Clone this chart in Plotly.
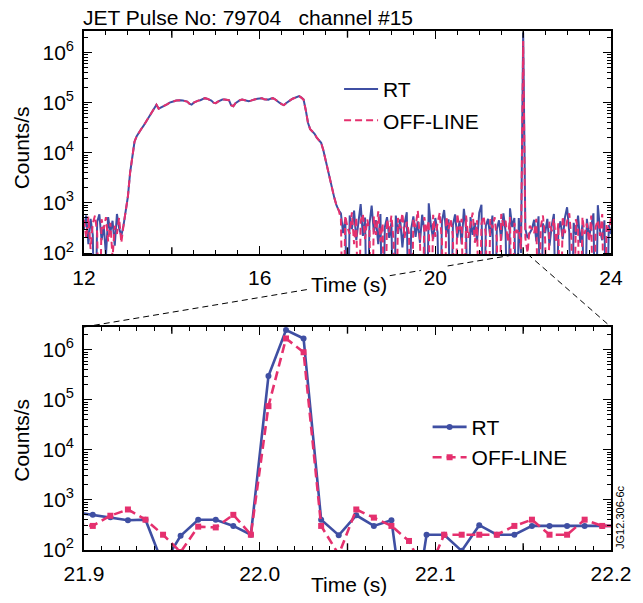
import numpy as np
import plotly.graph_objects as go

# ---------------- data: top panel (full pulse, 0.05 s samples) ----------------
SAMPLE_STEP = 0.05
early_start, pulse_start, late_start, spike_time, post_start = 12.0, 12.90, 17.85, 22.0, 22.05

early_rt = [300, 560, 150, 480, 230, 1, 420, 590, 180, 350, 90, 520, 260, 440, 140, 600, 310, 220]
early_off = [460, 200, 530, 120, 390, 560, 250, 1, 470, 300, 520, 170, 400, 80, 350, 240, 500, 160]

# rise, flat-top and fall of the neutron signal (both traces coincide)
pulse_counts = [
    355, 700, 1350, 4000, 8900, 16600, 21400, 25700, 29500, 33900, 39800, 46800,
    55000, 64600, 79400, 91200, 75900, 79400, 85100, 89100, 93300, 100000,
    105000, 107000, 110000, 112000, 112000, 110000, 107000, 105000, 95500, 91200,
    100000, 107000, 110000, 112000, 117000, 123000, 120000, 115000, 110000, 100000,
    97700, 105000, 112000, 115000, 115000, 115000, 112000, 89100, 85100, 97700,
    107000, 112000, 115000, 112000, 110000, 107000, 110000, 115000, 117000, 120000,
    120000, 123000, 117000, 115000, 115000, 120000, 123000, 117000, 110000, 100000,
    93300, 89100, 97700, 107000, 112000, 120000, 126000, 132000, 135000, 126000, 115000,
    70800, 39800, 29500, 26300, 24000, 20000, 17800, 15800, 11200, 7100, 5000,
    3160, 2090, 1260, 890, 710,
]

late_pre_rt = [
    620, 250, 480, 1, 560, 300, 700, 180, 420, 950,
    220, 510, 1, 380, 880, 260, 450, 150, 600, 1,
    330, 520, 200, 410, 1, 560, 240, 470, 130, 390,
    650, 1, 300, 540, 210, 430, 160, 580, 280, 1,
    980, 350, 190, 500, 260, 1, 430, 720, 240, 470,
    1, 360, 590, 200, 440, 150, 760, 310, 1, 520,
    230, 400, 170, 640, 920, 1, 350, 480, 210, 560,
    1, 300, 450, 180, 620, 270, 1, 780, 330, 500,
    1, 500, 100,
]
late_pre_off = [
    480, 1, 560, 320, 240, 650, 150, 520, 1, 430,
    600, 190, 470, 280, 1, 540, 230, 680, 170, 390,
    1, 470, 260, 560, 180, 1, 500, 310, 620, 200,
    420, 250, 1, 480, 330, 700, 190, 1, 520, 260,
    440, 1, 580, 210, 390, 640, 170, 1, 530, 300,
    470, 220, 1, 610, 290, 480, 1, 560, 200, 380,
    640, 160, 450, 1, 380, 550, 230, 1, 470, 310,
    520, 190, 1, 600, 350, 440, 170, 520, 1, 400,
    250, 300, 120,
]
spike_rt = 2500000
spike_off = 1700000
late_post_rt = [
    300, 200, 250, 300, 460, 170, 540, 1, 390, 250,
    480, 140, 350, 600, 1, 290, 430, 190, 510, 820,
    260, 1, 400, 230, 560, 160, 370, 1, 480, 210,
    340, 620, 1, 900, 280, 180, 450, 1, 360, 240,
]
late_post_off = [
    200, 100, 350, 300, 250, 480, 1, 330, 560, 190,
    1, 420, 270, 480, 160, 390, 1, 540, 250, 430,
    620, 180, 1, 470, 300, 1, 520, 240, 390, 170,
    560, 1, 330, 450, 220, 600, 1, 380, 270, 500,
]

# ---------------- data: bottom panel (zoom 21.9-22.2 s, 0.01 s samples) ----------------
zoom_start, zoom_step = 21.895, 0.01
zoom_rt = [560, 500, 450, 390, 400, 50, 190, 400, 400, 300, 200,
           300000, 2500000, 1700000, 400, 195, 490, 300, 390, 1, 200,
           200, 95, 310, 200, 200, 300, 300, 300, 300, 300, 300]
zoom_off = [330, 300, 480, 640, 400, 200, 90, 290, 280, 500, 200,
            75000, 1700000, 900000, 300, 80, 640, 440, 300, 150, 30,
            200, 200, 200, 200, 300, 400, 200, 200, 400, 300, 300]

# tick labels
top_xticks = [12, 16, 20, 24]
top_xtext = ["12", "16", "20", "24"]
top_mid_ticks = [14, 18, 22]
bot_xticks = [21.9, 22.0, 22.1, 22.2]
bot_xtext = ["21.9", "22.0", "22.1", "22.2"]
bot_mid_ticks = [21.95, 22.05, 22.15]
y_ticks = [1e2, 1e3, 1e4, 1e5, 1e6]
y_text = ["10<sup>2</sup>", "10<sup>3</sup>", "10<sup>4</sup>", "10<sup>5</sup>", "10<sup>6</sup>"]


def seg_times(start, n, step):
    return list(np.round(start + step * np.arange(n), 3))


t_top = (seg_times(early_start, len(early_rt), SAMPLE_STEP)
         + seg_times(pulse_start, len(pulse_counts), SAMPLE_STEP)
         + seg_times(late_start, len(late_pre_rt), SAMPLE_STEP)
         + [spike_time]
         + seg_times(post_start, len(late_post_rt), SAMPLE_STEP))
rt_top = early_rt + pulse_counts + late_pre_rt + [spike_rt] + late_post_rt
off_top = early_off + pulse_counts + late_pre_off + [spike_off] + late_post_off
t_zoom = seg_times(zoom_start, len(zoom_rt), zoom_step)

BLUE = "#3F4FA3"
PINK = "#E5306E"
FONT = "Liberation Sans, Arial, sans-serif"
FS = 21

fig = go.Figure()
fig.add_trace(go.Scatter(x=t_top, y=rt_top, mode="lines", name="RT",
                         line=dict(color=BLUE, width=2.0), xaxis="x", yaxis="y",
                         legend="legend", legendgroup="a"))
fig.add_trace(go.Scatter(x=t_top, y=off_top, mode="lines", name="OFF-LINE",
                         line=dict(color=PINK, width=2.0, dash="7px,4px"), xaxis="x", yaxis="y",
                         legend="legend", legendgroup="b"))
fig.add_trace(go.Scatter(x=t_zoom, y=zoom_rt, mode="lines+markers", name="RT",
                         line=dict(color=BLUE, width=2.6), marker=dict(symbol="circle", size=6, color=BLUE),
                         xaxis="x2", yaxis="y2", legend="legend2", legendgroup="c"))
fig.add_trace(go.Scatter(x=t_zoom, y=zoom_off, mode="lines+markers", name="OFF-LINE",
                         line=dict(color=PINK, width=2.6, dash="9px,5px"), marker=dict(symbol="square", size=6, color=PINK),
                         xaxis="x2", yaxis="y2", legend="legend2", legendgroup="d"))

common_axis = dict(showline=True, linecolor="black", linewidth=1.6, mirror="allticks",
                   ticks="inside", tickcolor="black", tickwidth=1.4, ticklen=8,
                   showgrid=False, zeroline=False,
                   tickfont=dict(family=FONT, size=FS, color="black"))
minor_log = dict(ticks="inside", ticklen=4, tickcolor="black", tickwidth=1,
                 tickvals=[m * 10 ** d for d in range(1, 7) for m in range(2, 10)], showgrid=False)

TOP_DOM = [0.5703, 1.0]
BOT_DOM = [0.0, 0.4297]

fig.update_layout(
    width=643, height=603,
    margin=dict(l=84, r=30, t=31, b=53),
    paper_bgcolor="white", plot_bgcolor="white",
    font=dict(family=FONT, size=FS, color="black"),
    xaxis=dict(common_axis, domain=[0, 1], anchor="y", range=[12, 24],
               tickmode="array", tickvals=top_xticks, ticktext=top_xtext, ticklabelstandoff=4,
               minor=dict(ticks="inside", ticklen=4, tickcolor="black", tickwidth=1, dtick=0.5, showgrid=False)),
    yaxis=dict(common_axis, domain=TOP_DOM, anchor="x", type="log", range=[1.98, 6.43],
               tickmode="array", tickvals=y_ticks, ticktext=y_text, ticklabelstandoff=4, minor=minor_log),
    xaxis2=dict(common_axis, domain=[0, 1], anchor="y2", range=[21.9, 22.2],
                tickmode="array", tickvals=bot_xticks, ticktext=bot_xtext, ticklabelstandoff=4,
                minor=dict(ticks="inside", ticklen=4, tickcolor="black", tickwidth=1, dtick=0.01, showgrid=False)),
    yaxis2=dict(common_axis, domain=BOT_DOM, anchor="x2", type="log", range=[1.995, 6.46],
                tickmode="array", tickvals=y_ticks, ticktext=y_text, ticklabelstandoff=4, minor=minor_log),
    legend=dict(x=0.484, y=0.927, xanchor="left", yanchor="top", bgcolor="rgba(0,0,0,0)",
                font=dict(family=FONT, size=FS), tracegroupgap=1, itemwidth=34),
    legend2=dict(x=0.652, y=0.276, xanchor="left", yanchor="top", bgcolor="rgba(0,0,0,0)",
                 font=dict(family=FONT, size=FS), tracegroupgap=0, itemwidth=34),
    showlegend=True,
)

# medium-length ticks between the labelled ones (bottom and mirrored top edge)
tick_line = dict(color="black", width=1.4)
for xr, yr, vals in [("x", "y domain", top_mid_ticks), ("x2", "y2 domain", bot_mid_ticks)]:
    for v in vals:
        fig.add_shape(type="line", xref=xr, yref=yr, x0=v, x1=v, y0=0, y1=0.03, line=tick_line)
        fig.add_shape(type="line", xref=xr, yref=yr, x0=v, x1=v, y0=0.97, y1=1, line=tick_line)

# dashed "zoom" connector lines (top-panel 21.9-22.2 s window to the bottom panel corners)
y_top_bottom = TOP_DOM[0]
y_bot_top = BOT_DOM[1]
dash_line = dict(color="black", width=1, dash="6px,4px")


def pt_on_left(t):
    return y_bot_top + (t - 12) / (21.9 - 12) * (y_top_bottom - y_bot_top)


for (xa, xb) in [(12, 19.67), (20.28, 21.9)]:
    fig.add_shape(type="line", xref="x", yref="paper", x0=xa, y0=pt_on_left(xa), x1=xb, y1=pt_on_left(xb),
                  line=dash_line)
fig.add_shape(type="line", xref="x", yref="paper", x0=22.1, y0=y_top_bottom, x1=24, y1=y_bot_top, line=dash_line)

ann_font = dict(family=FONT, size=FS, color="black")
fig.add_annotation(text="JET Pulse No: 79704   channel #15", xref="paper", yref="paper",
                   x=0.0, y=1.0, xanchor="left", yanchor="bottom", showarrow=False, font=ann_font, xshift=-3)
fig.add_annotation(text="Counts/s", xref="paper", yref="paper", x=-0.118, y=0.7755, textangle=-90,
                   xanchor="center", yanchor="middle", showarrow=False, font=ann_font)
fig.add_annotation(text="Counts/s", xref="paper", yref="paper", x=-0.118, y=0.212, textangle=-90,
                   xanchor="center", yanchor="middle", showarrow=False, font=ann_font)
fig.add_annotation(text="Time (s)", xref="paper", yref="paper", x=0.503, y=0.5125,
                   xanchor="center", yanchor="middle", showarrow=False, font=ann_font, bgcolor="white")
fig.add_annotation(text="Time (s)", xref="paper", yref="paper", x=0.503, y=-0.0674,
                   xanchor="center", yanchor="middle", showarrow=False, font=ann_font)
fig.add_annotation(text="JG12.306-6c", xref="paper", yref="paper", x=1.017, y=0.0636, textangle=-90,
                   xanchor="center", yanchor="middle", showarrow=False,
                   font=dict(family=FONT, size=11, color="black"))

fig.write_html("out.html", config={"displayModeBar": False},
               post_script="document.body.style.margin='0px';document.body.style.overflow='hidden';")
